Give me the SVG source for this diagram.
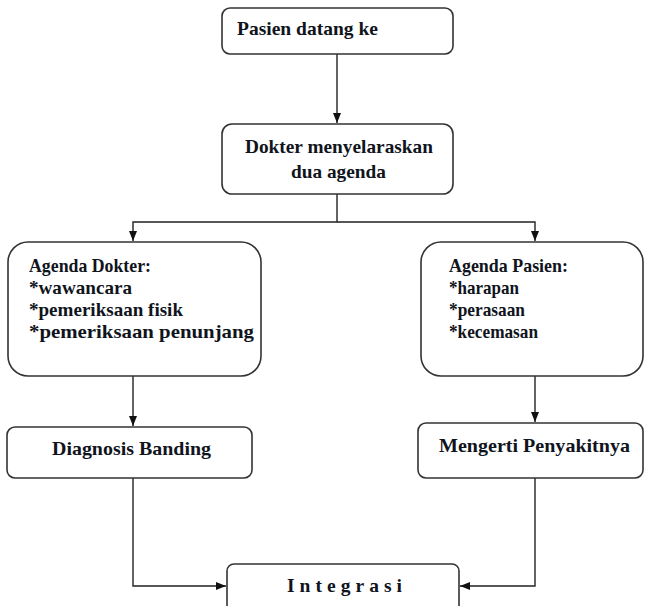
<svg xmlns="http://www.w3.org/2000/svg" width="645" height="606" viewBox="0 0 645 606">
<defs>
<marker id="ah" markerWidth="10" markerHeight="8" refX="10" refY="4" orient="auto" markerUnits="userSpaceOnUse">
<path d="M0,0 L10,4 L0,8 z" fill="#111"/>
</marker>
<style>
.box{fill:#fff;stroke:#333;stroke-width:1.6}
.t{font-family:"Liberation Serif","Times New Roman",serif;font-weight:bold;font-size:19.5px;fill:#10141c}
.c{fill:none;stroke:#222;stroke-width:1.4}
</style>
</defs>
<rect width="645" height="606" fill="#fff"/>
<g id="connectors">
<path class="c" d="M337,54 V123" marker-end="url(#ah)"/>
<path class="c" d="M337,194 V222 H133 V241" marker-end="url(#ah)"/>
<path class="c" d="M337,222 H535 V241" marker-end="url(#ah)"/>
<path class="c" d="M133,376 V426" marker-end="url(#ah)"/>
<path class="c" d="M535,376 V422" marker-end="url(#ah)"/>
<path class="c" d="M133,478 V586 H226" marker-end="url(#ah)"/>
<path class="c" d="M535,478 V586 H460" marker-end="url(#ah)"/>
</g>
<g id="n1">
<rect class="box" x="222" y="8" width="231" height="46" rx="8"/>
<text class="t" x="237" y="35" textLength="141" lengthAdjust="spacingAndGlyphs">Pasien datang ke</text>
</g>
<g id="n2">
<rect class="box" x="222" y="124" width="231" height="70" rx="10"/>
<text class="t" x="245" y="153" textLength="188" lengthAdjust="spacingAndGlyphs">Dokter menyelaraskan</text>
<text class="t" x="291" y="178" textLength="95" lengthAdjust="spacingAndGlyphs">dua agenda</text>
</g>
<g id="n3">
<rect class="box" x="8" y="242" width="253" height="134" rx="20"/>
<text class="t" x="29" y="272" textLength="122" lengthAdjust="spacingAndGlyphs">Agenda Dokter:</text>
<text class="t" x="29" y="294" textLength="103" lengthAdjust="spacingAndGlyphs">*wawancara</text>
<text class="t" x="29" y="316" textLength="154" lengthAdjust="spacingAndGlyphs">*pemeriksaan fisik</text>
<text class="t" x="29" y="338" textLength="225" lengthAdjust="spacingAndGlyphs">*pemeriksaan penunjang</text>
</g>
<g id="n4">
<rect class="box" x="421" y="242" width="222" height="134" rx="20"/>
<text class="t" x="449" y="272" textLength="119" lengthAdjust="spacingAndGlyphs">Agenda Pasien:</text>
<text class="t" x="449" y="294" textLength="70" lengthAdjust="spacingAndGlyphs">*harapan</text>
<text class="t" x="449" y="316" textLength="76" lengthAdjust="spacingAndGlyphs">*perasaan</text>
<text class="t" x="449" y="338" textLength="89" lengthAdjust="spacingAndGlyphs">*kecemasan</text>
</g>
<g id="n5">
<rect class="box" x="7" y="427" width="245" height="51" rx="8"/>
<text class="t" x="52" y="455" textLength="159" lengthAdjust="spacingAndGlyphs">Diagnosis Banding</text>
</g>
<g id="n6">
<rect class="box" x="418" y="423" width="225" height="55" rx="8"/>
<text class="t" x="439" y="452" textLength="191" lengthAdjust="spacingAndGlyphs">Mengerti Penyakitnya</text>
</g>
<g id="n7">
<rect class="box" x="227" y="564" width="232" height="50" rx="7"/>
<text class="t" x="287" y="592" textLength="115" lengthAdjust="spacing">Integrasi</text>
</g>
</svg>
